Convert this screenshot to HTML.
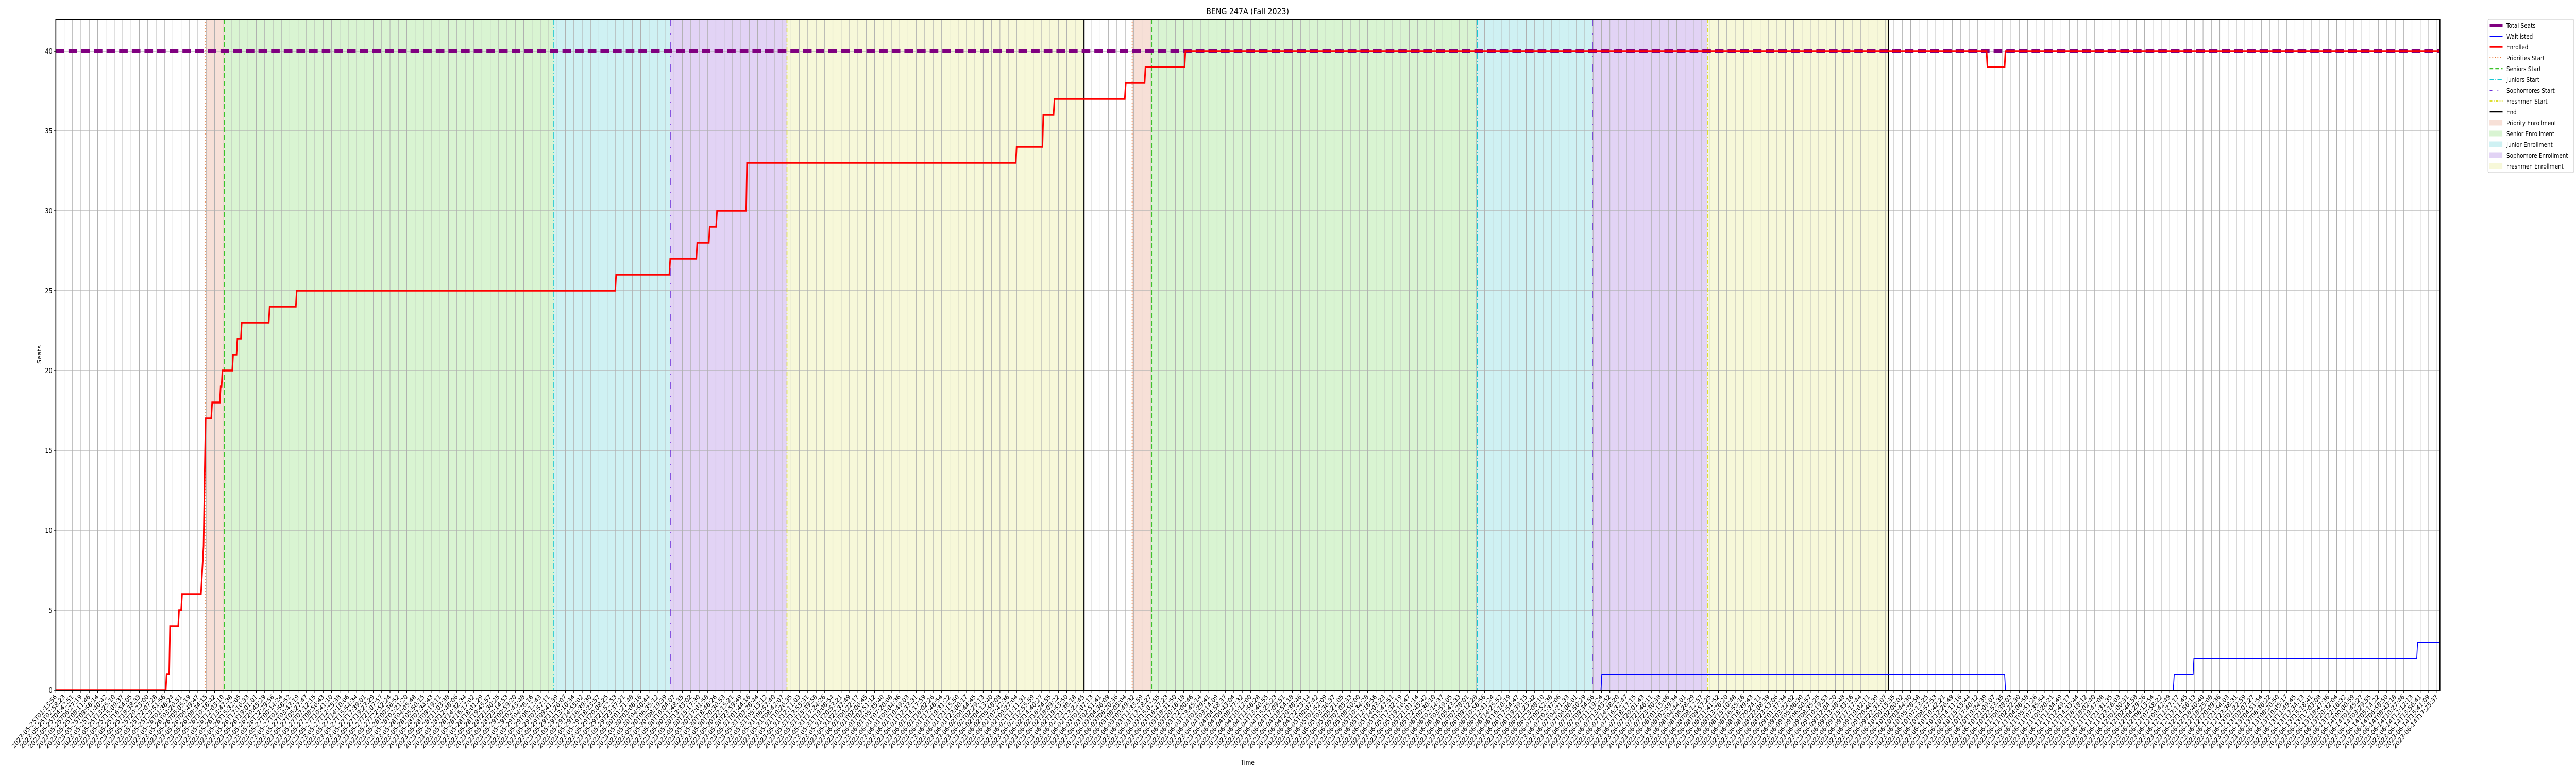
<!DOCTYPE html>
<html><head><meta charset="utf-8"><style>
html,body{margin:0;padding:0;background:#fff;width:100%;height:100%;overflow:hidden;}
svg{display:block;width:100vw;height:100vh;overflow:hidden;font-family:"DejaVu Sans","Liberation Sans",sans-serif;}
</style></head><body>
<svg id="chart" viewBox="0 0 6000 1500" preserveAspectRatio="none" xmlns="http://www.w3.org/2000/svg">
<g id="spans"></g>
<g id="grid"></g>
<g id="phases"></g>
<g id="series"></g>
<g id="axes"></g>
<text x="2906" y="28" font-size="17" text-anchor="middle">BENG 247A (Fall 2023)</text>
<text x="2906" y="1484" font-size="13" text-anchor="middle">Time</text>
<text x="0" y="0" font-size="13" text-anchor="middle" transform="translate(96,688) rotate(-90)">Seats</text>
<g id="legend"></g>
</svg>
<script>
// ---- data (x in tick-index units) ----
const enrolledX = [0,13.16,13.26,13.57,13.67,14.65,14.75,15.00,15.11,17.37,17.68,17.93,18.60,18.71,19.63,19.73,19.84,19.94,21.12,21.22,21.63,21.74,22.15,22.25,25.49,25.59,28.73,28.83,66.96,67.06,73.43,73.54,76.67,76.77,78.16,78.26,79.03,79.14,82.63,82.73,114.90,115.00,118.09,118.19,119.42,119.53,127.95,128.06,130.32,130.42,135.10,135.20,231.09,231.19,233.25,233.35,285.35];
const enrolledY = [0,0,1,1,4,4,5,5,6,6,9,17,17,18,18,19,19,20,20,21,21,22,22,23,23,24,24,25,25,26,26,27,27,28,28,29,29,30,30,33,33,34,34,36,36,37,37,38,38,39,39,40,40,39,39,40,40];
const waitX = [0,184.94,185.04,233.25,233.35,253.44,253.55,255.81,255.91,282.58,282.68,285.35];
const waitY = [0,0,1,1,0,0,1,1,2,2,3,3];
const totalSeats = [40];
const phaseNames = ["Priorities Start","Seniors Start","Juniors Start","Sophomores Start","Freshmen Start","End"];
const cycle1 = [17.93,20.20,59.61,73.54,87.51,123.07];
const cycle2 = [128.83,131.14,170.14,183.92,197.69,219.37];
const yTicks = [0,5,10,15,20,25,30,35,40];
const tickStart = Date.UTC(2023,4,25,1,13,56);
const tickEnd = Date.UTC(2023,5,14,17,25,37);
const tickCount = 286;
const tickLabels = [];
for (let i=0;i<tickCount;i++){const d=new Date(tickStart+(tickEnd-tickStart)*i/(tickCount-1));tickLabels.push(d.toISOString().slice(0,19));}

// ---- axes ----
const L=130,R=5683,T=37,B=1339;
const XMAX=285.35, YMAX=42;
const xs=v=>L+(R-L)*v/XMAX;
const ys=v=>B-(B-T)*v/YMAX;
const NS="http://www.w3.org/2000/svg";
function mk(tag,attrs,parent){const e=document.createElementNS(NS,tag);for(const k in attrs)e.setAttribute(k,attrs[k]);parent.appendChild(e);return e;}

const spanColors=["#f7e0d7","#d9f4d2","#cff1f3","#e2d3f5","#f7f8d9"];
const spanNames=["priority","senior","junior","sophomore","freshmen"];
const phaseStyles=[
 {c:"#e8722c",d:"2,4",w:2},{c:"#3cc22a",d:"10,5",w:2.5},{c:"#17c8d3",d:"12,4,2,4",w:2},
 {c:"#6a2bd9",d:"14,14,2,14",w:2},{c:"#dede30",d:"8,4,2,4",w:2},{c:"#000",d:"",w:2.5}];
const spans=document.getElementById('spans');
[cycle1,cycle2].forEach((cy,ci)=>{
 for(let k=0;k<5;k++){
  const r=mk('rect',{x:xs(cy[k]),y:T,width:xs(cy[k+1])-xs(cy[k]),height:B-T,fill:spanColors[k]},spans);
  
  
 }
});
const grid=document.getElementById('grid');
for(let i=0;i<tickCount;i++){
 const l=mk('line',{x1:xs(i),x2:xs(i),y1:T,y2:B,stroke:"#b0b0b0","stroke-width":1.3},grid);
 
 
}
yTicks.forEach(v=>{
 const l=mk('line',{x1:L,x2:R,y1:ys(v),y2:ys(v),stroke:"#b0b0b0","stroke-width":1.3},grid);
 
 
});
const phases=document.getElementById('phases');
[cycle1,cycle2].forEach((cy,ci)=>{
 cy.forEach((v,k)=>{
  const s=phaseStyles[k];
  const l=mk('line',{x1:xs(v),x2:xs(v),y1:T,y2:B,stroke:s.c,"stroke-width":s.w,"stroke-dasharray":s.d},phases);
  
  
 });
});
const series=document.getElementById('series');
const ts=mk('line',{x1:L,x2:R,y1:ys(totalSeats[0]),y2:ys(totalSeats[0]),stroke:"#800080","stroke-width":6,"stroke-dasharray":"20,9.5"},series);


const wp=mk('polyline',{points:waitX.map((x,i)=>xs(x)+','+ys(waitY[i])).join(' '),fill:"none",stroke:"#0000ff","stroke-width":2},series);


const ep=mk('polyline',{points:enrolledX.map((x,i)=>xs(x)+','+ys(enrolledY[i])).join(' '),fill:"none",stroke:"#ff0000","stroke-width":3.5},series);



const axes=document.getElementById('axes');
mk('rect',{x:L,y:T,width:R-L,height:B-T,fill:"none",stroke:"#000","stroke-width":2},axes);
for(let i=0;i<tickCount;i++){
 const x=xs(i);
 mk('line',{x1:x,x2:x,y1:B,y2:B+5,stroke:"#000","stroke-width":1.3},axes);
 const t=mk('text',{x:x+3,y:B+14,"font-size":"13","text-anchor":"end",transform:`rotate(-45 ${x+3} ${B+14})`},axes);
 t.textContent=tickLabels[i];
 
 
}
yTicks.forEach(v=>{
 const y=ys(v);
 mk('line',{x1:L-5,x2:L,y1:y,y2:y,stroke:"#000","stroke-width":1.3},axes);
 const t=mk('text',{x:L-8,y:y+5,"font-size":"13.5","text-anchor":"end"},axes);
 t.textContent=v;
 
 
});

// legend
const lg=document.getElementById('legend');
mk('rect',{x:5795,y:37,width:200,height:298,fill:"#fff",stroke:"#d0d0d0","stroke-width":1.3,rx:3},lg);
const entries=[
 {n:"Total Seats",type:"line",c:"#800080",w:6,d:""},
 {n:"Waitlisted",type:"line",c:"#0000ff",w:2,d:""},
 {n:"Enrolled",type:"line",c:"#ff0000",w:3.5,d:""},
 {n:"Priorities Start",type:"line",c:"#e8722c",w:2,d:"2,4"},
 {n:"Seniors Start",type:"line",c:"#3cc22a",w:2.5,d:"8,5"},
 {n:"Juniors Start",type:"line",c:"#17c8d3",w:2,d:"10,3,2,3"},
 {n:"Sophomores Start",type:"line",c:"#6a2bd9",w:2,d:"6,12,2,20"},
 {n:"Freshmen Start",type:"line",c:"#dede30",w:2,d:"6,3,2,3"},
 {n:"End",type:"line",c:"#000",w:2.5,d:""},
 {n:"Priority Enrollment",type:"patch",c:"#f7e0d7"},
 {n:"Senior Enrollment",type:"patch",c:"#d9f4d2"},
 {n:"Junior Enrollment",type:"patch",c:"#cff1f3"},
 {n:"Sophomore Enrollment",type:"patch",c:"#e2d3f5"},
 {n:"Freshmen Enrollment",type:"patch",c:"#f7f8d9"}];
entries.forEach((e,i)=>{
 const y=49+i*21;
 const g=mk('g',{},lg);
 
 
 if(e.type==="line") mk('line',{x1:5799,x2:5829,y1:y,y2:y,stroke:e.c,"stroke-width":e.w,"stroke-dasharray":e.d},g);
 else mk('rect',{x:5799,y:y-5,width:29,height:10,fill:e.c,stroke:e.c},g);
 const t=mk('text',{x:5838,y:y+5,"font-size":"12.5"},g);
 t.textContent=e.n;
});
</script>
</body></html>
